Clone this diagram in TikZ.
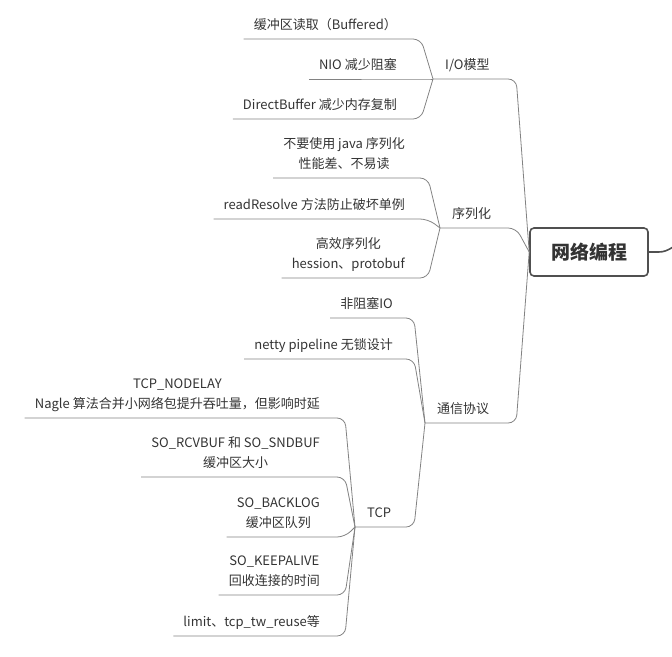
\documentclass[tikz,border=0pt]{standalone}
\usepackage{fontspec}
\newfontfamily\cjk{Noto Sans CJK SC}
\usetikzlibrary{calc}

\definecolor{textgray}{RGB}{51,51,51}
\definecolor{linegray}{RGB}{130,130,130}
\definecolor{rootgray}{RGB}{80,80,80}

\tikzset{
  topic/.style={font={\cjk\fontsize{13}{20}\selectfont}, text=textgray,
    inner xsep=10pt, inner ysep=3pt, align=center, execute at end node=\strut},
  main/.style={topic, inner xsep=12pt, anchor=south west},
  leaf/.style={topic, anchor=south east},
  root/.style={draw=rootgray, line width=1.6pt, rounded corners=4pt, fill=white,
    minimum width=118pt, minimum height=48pt, text=textgray,
    font={\cjk\bfseries\fontsize{19}{22}\selectfont}},
  link/.style={draw=linegray, line width=0.8pt, rounded corners=8pt},
  trunk/.style={draw=rootgray, line width=1.6pt}
}

\begin{document}
\begin{tikzpicture}[x=1pt,y=-1pt]
  \useasboundingbox (0,0) rectangle (672,656);

  \node[root] (R) at (589,252) {网络编程};
  \node[main] (IO) at (433,79) {I/O模型};
  \node[main] (SER) at (440,228) {序列化};
  \node[main] (COM) at (425,423) {通信协议};
  \node[main] (TCP) at (355,527) {TCP};

  \node[leaf] (IO1) at (407,39) {缓冲区读取（Buffered）};
  \node[leaf] (IO2) at (407,79) {NIO 减少阻塞};
  \node[leaf] (IO3) at (407,119) {DirectBuffer 减少内存复制};

  \node[leaf] (SER1) at (415,178) {不要使用 java 序列化\\性能差、不易读};
  \node[leaf] (SER2) at (415,219) {readResolve 方法防止破坏单例};
  \node[leaf] (SER3) at (415,278) {高效序列化\\hession、protobuf};

  \node[leaf] (COM1) at (403,318) {非阻塞IO};
  \node[leaf] (COM2) at (403,359) {netty pipeline 无锁设计};

  \node[leaf] (TCP1) at (330,418) {TCP\_NODELAY\\Nagle 算法合并小网络包提升吞吐量，但影响时延};
  \node[leaf] (TCP2) at (330,477) {SO\_RCVBUF 和 SO\_SNDBUF\\缓冲区大小};
  \node[leaf] (TCP3) at (330,537) {SO\_BACKLOG\\缓冲区队列};
  \node[leaf] (TCP4) at (330,595) {SO\_KEEPALIVE\\回收连接的时间};
  \node[leaf] (TCP5) at (330,636) {limit、tcp\_tw\_reuse等};

  % bend points of each group
  \coordinate (Rb) at ($(R.west)+(-13,0)$);
  \coordinate (IOb) at ($(IO.south west)+(-12,0)$);
  \coordinate (SERb) at ($(SER.south west)+(-12,0)$);
  \coordinate (COMb) at ($(COM.south west)+(-11,0)$);
  \coordinate (TCPb) at ($(TCP.south west)+(-10,0)$);
  \coordinate (Rout) at (686,240);

  \draw[trunk] (R.east) -- ++(10,0) .. controls +(10,0) and +(-12,5) .. (Rout);

  \draw[link] (IO.south west) -- (IO.south -| Rb) -- (R.west);
  \draw[link] (SER.south west) -- (SER.south -| Rb) -- (R.west);
  \draw[link] (COM.south west) -- (COM.south -| Rb) -- (R.west);

  \draw[link] (IO1.south west) -- (IO1.south -| IOb) -- (IO.south west);
  \draw[link] (IO2.south west) -- (IO2.south -| IOb) -- (IO.south west);
  \draw[link] (IO3.south west) -- (IO3.south -| IOb) -- (IO.south west);

  \draw[link] (SER1.south west) -- (SER1.south -| SERb) -- (SER.south west);
  \draw[link] (SER2.south west) -- (SER2.south -| SERb) -- (SER.south west);
  \draw[link] (SER3.south west) -- (SER3.south -| SERb) -- (SER.south west);

  \draw[link] (COM1.south west) -- (COM1.south -| COMb) -- (COM.south west);
  \draw[link] (COM2.south west) -- (COM2.south -| COMb) -- (COM.south west);
  \draw[link] (TCP.south west) -- (TCP.south -| COMb) -- (COM.south west);

  \draw[link] (TCP1.south west) -- (TCP1.south -| TCPb) -- (TCP.south west);
  \draw[link] (TCP2.south west) -- (TCP2.south -| TCPb) -- (TCP.south west);
  \draw[link] (TCP3.south west) -- (TCP3.south -| TCPb) -- (TCP.south west);
  \draw[link] (TCP4.south west) -- (TCP4.south -| TCPb) -- (TCP.south west);
  \draw[link] (TCP5.south west) -- (TCP5.south -| TCPb) -- (TCP.south west);
\end{tikzpicture}
\end{document}
